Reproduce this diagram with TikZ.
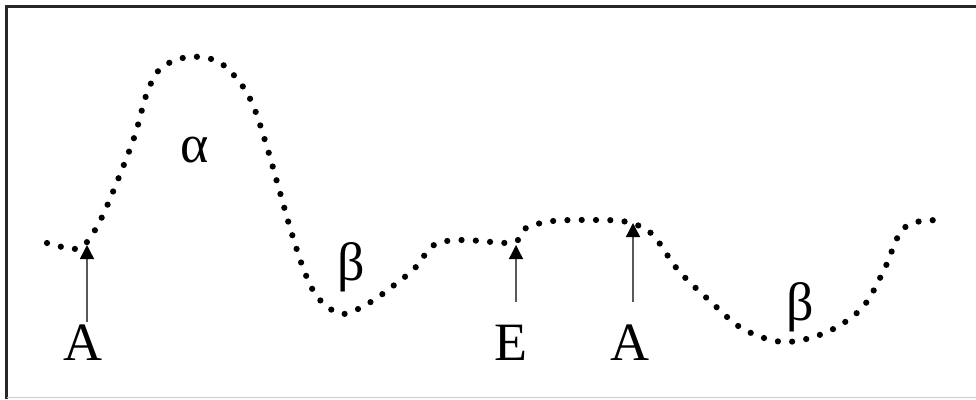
\documentclass[tikz,border=0pt]{standalone}
\usepackage{fontspec}
\setmainfont{Liberation Serif}
\usetikzlibrary{arrows.meta}
\tikzset{
  frameline/.style={line width=3pt, black!85},
  baseline rule/.style={line width=1.2pt, black!20},
  dotcurve/.style={line width=6.2pt, line cap=round, dash pattern=on 0pt off 14.3pt},
  marker/.style={line width=1.4pt, black!65, -{Triangle[width=14pt,length=14pt,fill=black,color=black]}},
  label/.style={font=\fontsize{54}{60}\selectfont, inner sep=0pt, anchor=base},
}
\begin{document}
\begin{tikzpicture}[x=1pt,y=-1pt]
\useasboundingbox (0,0) rectangle (976,399);
% frame
\draw[frameline] (6.5,399) -- (6.5,6.5) -- (976,6.5);
\draw[baseline rule] (6.5,397.6) -- (976,397.6);
% dotted profile
\draw[dotcurve] plot[smooth, tension=0.55] coordinates {
  (47,243) (74,249) (87,242) (102,217) (119,177) (135,135) (147,93)
  (161,68) (188,57) (217,61) (238,80) (253,105) (267,147) (279,189)
  (291,231) (305,273) (319,299) (342,314) (369,303) (393,286) (415,268)
  (434,245) (462,240) (506,243) (518,240) (526,228) (553,221) (597,220)
  (627,222) (652,234) (678,270) (710,301) (743,329) (784,342) (827,332)
  (862,308) (884,270) (902,230) (927,220) (942,223)};
% labels
\node[label] (a1) at (83,360) {A};
\node[label] (e) at (511,360) {E};
\node[label] (a2) at (630,360) {A};
\node[label] (alpha) at (195,162) {α};
\node[label] (beta1) at (351,280) {β};
\node[label] (beta2) at (800,320) {β};
% arrows
\coordinate (a1tail) at (87,322);
\coordinate (a1tip) at (87,245);
\coordinate (etail) at (516,302);
\coordinate (etip) at (516,245);
\coordinate (a2tail) at (633,302);
\coordinate (a2tip) at (633,223);
\draw[marker] (a1tail) -- (a1tip);
\draw[marker] (etail) -- (etip);
\draw[marker] (a2tail) -- (a2tip);
\end{tikzpicture}
\end{document}
